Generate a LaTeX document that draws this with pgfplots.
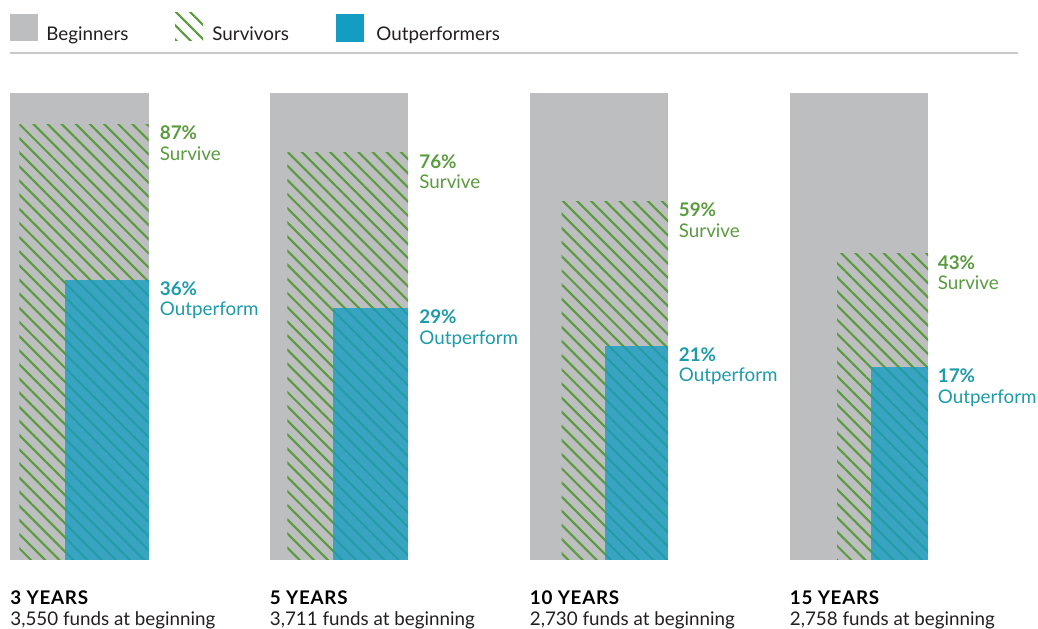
\documentclass[border=0pt]{standalone}
\usepackage{pgfplots}
\pgfplotsset{compat=1.18}
\usetikzlibrary{patterns.meta}
\usepackage{fontspec}
\setmainfont{Lato}
\definecolor{bggrey}{HTML}{BDBEC0}
\definecolor{hgreen}{HTML}{5A9B3E}
\definecolor{oblue}{HTML}{149DC3}
\definecolor{tealtxt}{HTML}{1C9BA8}
\definecolor{rulegrey}{HTML}{C8C8C8}
\definecolor{txt}{HTML}{231F20}
\tikzset{
  hatch/.style={draw=none, pattern={Lines[angle=-45,distance=5pt,line width=1.05pt]}, pattern color=hgreen},
  lab/.style={anchor=base west, inner sep=0pt, font=\fontsize{9.4}{11}\selectfont},
}
\begin{document}
\begin{tikzpicture}
\useasboundingbox (0,0) rectangle (519pt,314pt);
\clip (0,0) rectangle (519pt,314pt);
\begin{axis}[at={(0,0)}, anchor=south west, scale only axis,
  width=519pt, height=314pt, xmin=0, xmax=1038, ymin=-68.5, ymax=559.5,
  hide axis, clip=false,
  ]
% Beginners (grey)
\addplot[fill=bggrey, draw=none] coordinates {(10,466.5) (148.5,466.5)} \closedcycle;
\addplot[fill=bggrey, draw=none] coordinates {(269.5,466.5) (408,466.5)} \closedcycle;
\addplot[fill=bggrey, draw=none] coordinates {(529.5,466.5) (668,466.5)} \closedcycle;
\addplot[fill=bggrey, draw=none] coordinates {(789.5,466.5) (928,466.5)} \closedcycle;
% Survivors (hatched)
\addplot[hatch] coordinates {(19.3,435.1) (148.5,435.1)} \closedcycle;
\addplot[hatch] coordinates {(287.3,406.7) (408,406.7)} \closedcycle;
\addplot[hatch] coordinates {(561.6,358.3) (668,358.3)} \closedcycle;
\addplot[hatch] coordinates {(837.2,305.9) (928,305.9)} \closedcycle;
% Outperformers (blue)
\addplot[fill=oblue, fill opacity=0.78, draw=none] coordinates {(65.4,279.9) (148.5,279.9)} \closedcycle;
\addplot[fill=oblue, fill opacity=0.78, draw=none] coordinates {(333.4,251.2) (408,251.2)} \closedcycle;
\addplot[fill=oblue, fill opacity=0.78, draw=none] coordinates {(604.5,213.8) (668,213.8)} \closedcycle;
\addplot[fill=oblue, fill opacity=0.78, draw=none] coordinates {(870.9,192.3) (928,192.3)} \closedcycle;

% legend
\fill[bggrey] (axis cs:10,545.5) rectangle (axis cs:37.5,518);
\fill[hatch] (axis cs:175,546.5) rectangle (axis cs:203,518.5);
\fill[oblue] (axis cs:336,545.5) rectangle (axis cs:364,517.5);
\node[lab, text=txt] at (axis cs:46,518.5) {Beginners};
\node[lab, text=txt] at (axis cs:212,518.5) {Survivors};
\node[lab, text=txt] at (axis cs:376,518.5) {Outperformers};
\draw[rulegrey, line width=0.9pt] (axis cs:10,506.5) -- (axis cs:1018,506.5);

% value labels
\node[lab, text=hgreen] at (axis cs:159.5,419.6) {\bfseries 87\%};
\node[lab, text=hgreen] at (axis cs:159.5,399.1) {Survive};
\node[lab, text=tealtxt] at (axis cs:159.5,264.4) {\bfseries 36\%};
\node[lab, text=tealtxt] at (axis cs:159.5,243.9) {Outperform};
\node[lab, text=hgreen] at (axis cs:419,391.2) {\bfseries 76\%};
\node[lab, text=hgreen] at (axis cs:419,370.7) {Survive};
\node[lab, text=tealtxt] at (axis cs:419,235.7) {\bfseries 29\%};
\node[lab, text=tealtxt] at (axis cs:419,215.2) {Outperform};
\node[lab, text=hgreen] at (axis cs:678.5,342.8) {\bfseries 59\%};
\node[lab, text=hgreen] at (axis cs:678.5,322.3) {Survive};
\node[lab, text=tealtxt] at (axis cs:678.5,198.3) {\bfseries 21\%};
\node[lab, text=tealtxt] at (axis cs:678.5,177.8) {Outperform};
\node[lab, text=hgreen] at (axis cs:937.5,290.4) {\bfseries 43\%};
\node[lab, text=hgreen] at (axis cs:937.5,269.9) {Survive};
\node[lab, text=tealtxt] at (axis cs:937.5,176.8) {\bfseries 17\%};
\node[lab, text=tealtxt] at (axis cs:937.5,156.3) {Outperform};

% category labels
\node[lab, text=black] at (axis cs:10,-44.5) {\bfseries\addfontfeatures{LetterSpace=4}3 YEARS};
\node[lab, text=txt] at (axis cs:10,-65.5) {3,550 funds at beginning};
\node[lab, text=black] at (axis cs:269.5,-44.5) {\bfseries\addfontfeatures{LetterSpace=4}5 YEARS};
\node[lab, text=txt] at (axis cs:269.5,-65.5) {3,711 funds at beginning};
\node[lab, text=black] at (axis cs:529.5,-44.5) {\bfseries\addfontfeatures{LetterSpace=4}10 YEARS};
\node[lab, text=txt] at (axis cs:529.5,-65.5) {2,730 funds at beginning};
\node[lab, text=black] at (axis cs:789.5,-44.5) {\bfseries\addfontfeatures{LetterSpace=4}15 YEARS};
\node[lab, text=txt] at (axis cs:789.5,-65.5) {2,758 funds at beginning};
\end{axis}
\end{tikzpicture}
\end{document}
